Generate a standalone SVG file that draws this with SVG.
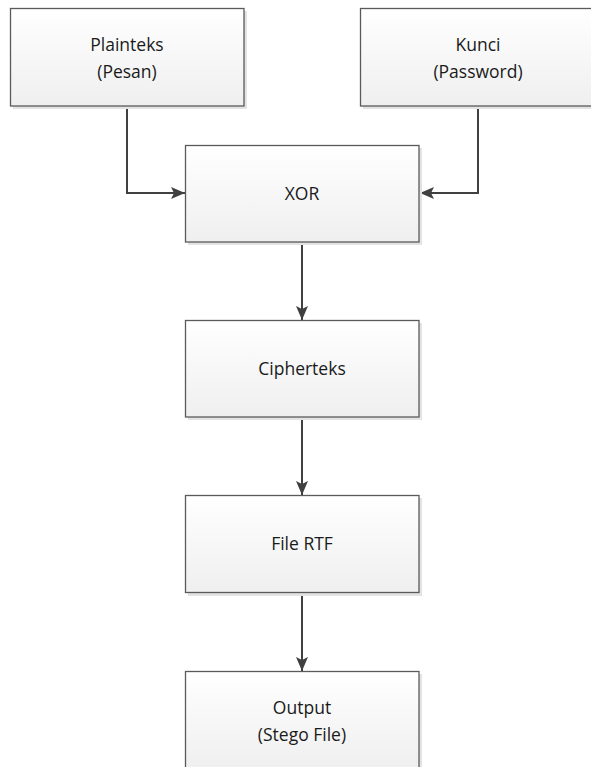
<svg xmlns="http://www.w3.org/2000/svg" width="591" height="767" viewBox="0 0 591 767">
<defs>
<linearGradient id="g" x1="0" y1="0" x2="0" y2="1">
<stop offset="0" stop-color="#ffffff"/>
<stop offset="1" stop-color="#efefef"/>
</linearGradient>
<marker id="arr" viewBox="0 0 14 12" refX="14" refY="6" markerWidth="14" markerHeight="12" markerUnits="userSpaceOnUse" orient="auto">
<path d="M0,0 L14,6 L0,12 L3,6 z" fill="#404040"/>
</marker>
<style>
.sh{fill:#e3e3e3;}
.box{fill:url(#g);stroke:#5a5a5a;stroke-width:1.3;}
.t{font-family:"Open Sans","Liberation Sans",sans-serif;font-size:17.5px;fill:#1a1a1a;text-anchor:middle;}
.c{fill:none;stroke:#404040;stroke-width:2;}
</style>
</defs>
<g id="connectors">
<path class="c" d="M127,106 V193 H185" marker-end="url(#arr)"/>
<path class="c" d="M478,106 V193 H420" marker-end="url(#arr)"/>
<path class="c" d="M302,242 V320" marker-end="url(#arr)"/>
<path class="c" d="M302,417 V495" marker-end="url(#arr)"/>
<path class="c" d="M302,593 V671" marker-end="url(#arr)"/>
</g>
<g id="plainteks">
<rect class="sh" x="13" y="11" width="234" height="98"/>
<rect class="box" x="10.5" y="8.5" width="233.5" height="97.5"/>
<text class="t" x="127" y="51">Plainteks</text>
<text class="t" x="127" y="78">(Pesan)</text>
</g>
<g id="kunci">
<rect class="sh" x="363" y="11" width="234" height="98"/>
<rect class="box" x="360.5" y="8.5" width="233.5" height="97.5"/>
<text class="t" x="478" y="51">Kunci</text>
<text class="t" x="478" y="78">(Password)</text>
</g>
<g id="xor">
<rect class="sh" x="188" y="148" width="234" height="97"/>
<rect class="box" x="185.5" y="145.5" width="233.5" height="96.5"/>
<text class="t" x="302" y="199.5">XOR</text>
</g>
<g id="cipherteks">
<rect class="sh" x="188" y="323" width="234" height="97"/>
<rect class="box" x="185.5" y="320.5" width="233.5" height="96.5"/>
<text class="t" x="302" y="375">Cipherteks</text>
</g>
<g id="filertf">
<rect class="sh" x="188" y="498" width="234" height="98"/>
<rect class="box" x="185.5" y="495.5" width="233.5" height="97"/>
<text class="t" x="302" y="550">File RTF</text>
</g>
<g id="output">
<rect class="sh" x="188" y="674" width="234" height="98"/>
<rect class="box" x="185.5" y="671.5" width="233.5" height="97"/>
<text class="t" x="302" y="714">Output</text>
<text class="t" x="302" y="741">(Stego File)</text>
</g>
</svg>
